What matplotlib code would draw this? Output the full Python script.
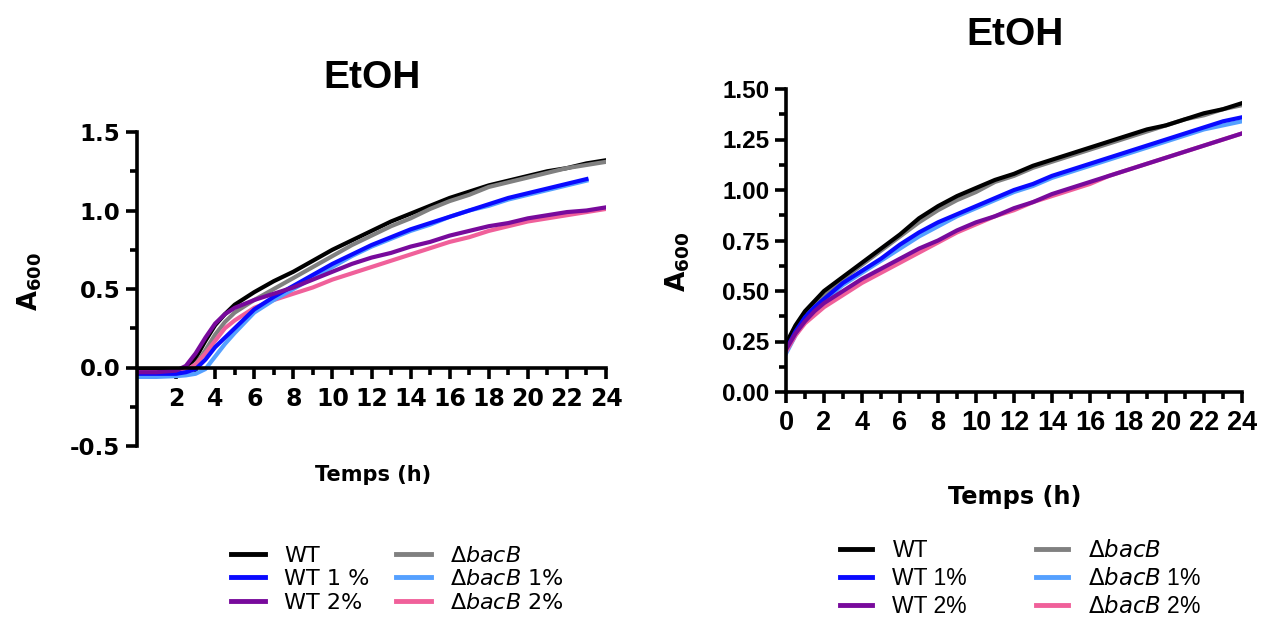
import numpy as np
import matplotlib
matplotlib.use("Agg")
import matplotlib.pyplot as plt
from matplotlib.ticker import MultipleLocator, FixedLocator
from matplotlib.lines import Line2D

nan = np.nan

# ---------------- data: left panel ----------------
t_left = [0, 1, 2, 2.5, 3, 3.5, 4, 4.5, 5, 6, 7, 8, 9, 10, 11, 12, 13, 14,
          15, 16, 17, 18, 19, 20, 21, 22, 23, 24]
left_wt = [-0.02, -0.02, -0.02, 0.00, 0.06, 0.17, 0.27, 0.34, 0.40, 0.48, 0.55, 0.61,
           0.68, 0.75, 0.81, 0.87, 0.93, 0.98, 1.03, 1.08, 1.12, 1.16, 1.19, 1.22,
           1.25, 1.27, 1.30, 1.32]
left_wt1 = [-0.04, -0.04, -0.04, -0.03, -0.01, 0.05, 0.13, 0.19, 0.25, 0.37, 0.45, 0.52,
            0.59, 0.66, 0.72, 0.78, 0.83, 0.88, 0.92, 0.96, 1.00, 1.04, 1.08, 1.11,
            1.14, 1.17, 1.20, nan]
left_wt2 = [-0.03, -0.03, -0.02, 0.01, 0.09, 0.19, 0.28, 0.34, 0.38, 0.43, 0.47, 0.51,
            0.56, 0.61, 0.66, 0.70, 0.73, 0.77, 0.80, 0.84, 0.87, 0.90, 0.92, 0.95,
            0.97, 0.99, 1.00, 1.02]
left_d = [-0.03, -0.03, -0.03, -0.02, 0.02, 0.11, 0.21, 0.29, 0.35, 0.43, 0.50, 0.57,
          0.64, 0.71, 0.78, 0.84, 0.90, 0.95, 1.01, 1.06, 1.10, 1.15, 1.18, 1.21,
          1.24, 1.27, 1.29, 1.31]
left_d1 = [-0.06, -0.06, -0.055, -0.05, -0.04, -0.01, 0.07, 0.15, 0.22, 0.35, 0.43, 0.50,
           0.57, 0.64, 0.71, 0.77, 0.82, 0.87, 0.91, 0.96, 1.00, 1.03, 1.07, 1.10,
           1.13, 1.16, 1.19, nan]
left_d2 = [-0.03, -0.03, -0.03, -0.02, 0.02, 0.09, 0.17, 0.25, 0.30, 0.38, 0.43, 0.47,
           0.51, 0.56, 0.60, 0.64, 0.68, 0.72, 0.76, 0.80, 0.83, 0.87, 0.90, 0.93,
           0.95, 0.97, 0.99, 1.01]

# ---------------- data: right panel ----------------
t_right = [0, 0.5, 1, 1.5, 2, 3, 4, 5, 6, 7, 8, 9, 10, 11, 12, 13, 14, 15, 16,
           17, 18, 19, 20, 21, 22, 23, 24]
right_wt = [0.24, 0.33, 0.40, 0.45, 0.50, 0.57, 0.64, 0.71, 0.78, 0.86, 0.92, 0.97,
            1.01, 1.05, 1.08, 1.12, 1.15, 1.18, 1.21, 1.24, 1.27, 1.30, 1.32, 1.35,
            1.38, 1.40, 1.43]
right_wt1 = [0.21, 0.30, 0.37, 0.42, 0.46, 0.54, 0.60, 0.66, 0.73, 0.79, 0.84, 0.88,
             0.92, 0.96, 1.00, 1.03, 1.07, 1.10, 1.13, 1.16, 1.19, 1.22, 1.25, 1.28,
             1.31, 1.34, 1.36]
right_wt2 = [0.21, 0.29, 0.35, 0.40, 0.44, 0.50, 0.56, 0.61, 0.66, 0.71, 0.75, 0.80,
             0.84, 0.87, 0.91, 0.94, 0.98, 1.01, 1.04, 1.07, 1.10, 1.13, 1.16, 1.19,
             1.22, 1.25, 1.28]
right_d = [0.22, 0.31, 0.38, 0.43, 0.48, 0.56, 0.63, 0.70, 0.77, 0.84, 0.90, 0.95,
           0.99, 1.04, 1.07, 1.11, 1.14, 1.17, 1.20, 1.23, 1.26, 1.29, 1.32, 1.35,
           1.37, 1.40, 1.42]
right_d1 = [0.19, 0.28, 0.35, 0.40, 0.45, 0.53, 0.59, 0.65, 0.71, 0.77, 0.82, 0.87,
            0.91, 0.95, 0.99, 1.02, 1.06, 1.09, 1.12, 1.15, 1.18, 1.21, 1.24, 1.27,
            1.30, 1.32, 1.34]
right_d2 = [0.20, 0.28, 0.34, 0.38, 0.42, 0.48, 0.54, 0.59, 0.64, 0.69, 0.74, 0.79,
            0.83, 0.87, 0.90, 0.94, 0.97, 1.00, 1.03, 1.07, 1.10, 1.13, 1.16, 1.19,
            1.22, 1.25, 1.28]

labels_left = ["WT", "WT 1 %", "WT 2%",
               r"$\Delta\mathit{bacB}$", r"$\Delta\mathit{bacB}$ 1%", r"$\Delta\mathit{bacB}$ 2%"]
labels_right = ["WT", "WT 1%", "WT 2%",
                r"$\Delta\mathit{bacB}$", r"$\Delta\mathit{bacB}$ 1%", r"$\Delta\mathit{bacB}$ 2%"]
colors = ["#000000", "#0a0aff", "#780a9c", "#808080", "#55a0ff", "#f0609a"]
x_ticks = [2, 4, 6, 8, 10, 12, 14, 16, 18, 20, 22, 24]
x_ticks_right = [0, 2, 4, 6, 8, 10, 12, 14, 16, 18, 20, 22, 24]
y_ticks_left = [-0.5, 0.0, 0.5, 1.0, 1.5]
y_ticks_right = [0.00, 0.25, 0.50, 0.75, 1.00, 1.25, 1.50]

W, H = 1261, 617
fig = plt.figure(figsize=(W / 100, H / 100), dpi=100)

def style(ax, xfs, yfs, fam):
    for s in ["top", "right"]:
        ax.spines[s].set_visible(False)
    for s in ["left", "bottom"]:
        ax.spines[s].set_linewidth(2.6)
    ax.tick_params(which="major", width=2.6, length=8, pad=4)
    ax.tick_params(which="minor", width=2.6, length=5)
    ax.tick_params(axis="x", labelsize=xfs)
    ax.tick_params(axis="y", labelsize=yfs)
    for lab in ax.get_xticklabels() + ax.get_yticklabels():
        lab.set_fontweight("bold")
        lab.set_family(fam)

LW = 3.0

# ---------------- left panel ----------------
axL = fig.add_axes([137 / W, 1 - 446 / H, (606 - 137) / W, (446 - 132) / H])
series_left = [left_wt, left_wt1, left_wt2, left_d, left_d1, left_d2]
order_left = [0, 3, 5, 4, 1, 2]
for i in order_left:
    axL.plot(t_left, series_left[i], color=colors[i], lw=LW)
axL.set_xlim(0, 24)
axL.set_ylim(-0.5, 1.5)
axL.spines["bottom"].set_position(("data", 0))
axL.set_xticks(x_ticks)
axL.set_xticklabels([str(v) for v in x_ticks])
axL.xaxis.set_minor_locator(FixedLocator([1, 3, 5, 7, 9, 11, 13, 15, 17, 19, 21, 23]))
axL.set_yticks(y_ticks_left)
axL.set_yticklabels(["-0.5", "0.0", "0.5", "1.0", "1.5"])
axL.yaxis.set_minor_locator(MultipleLocator(0.25))
style(axL, 17, 16.5, "DejaVu Sans")
axL.tick_params(axis="x", which="major", pad=6)

fig.text(372 / W, 1 - 78 / H, "EtOH", ha="center", va="center",
         fontsize=28, fontweight="bold", family="Liberation Sans")
fig.text(373 / W, 1 - 475 / H, "Temps (h)", ha="center", va="center",
         fontsize=15, fontweight="bold", family="DejaVu Sans")
fig.text(30 / W, 1 - 282 / H, r"A$_{\mathbf{600}}$", ha="center", va="center",
         rotation=90, fontsize=18.5, fontweight="bold", family="DejaVu Sans")

# ---------------- right panel ----------------
axR = fig.add_axes([786 / W, 1 - 392 / H, (1242 - 786) / W, (392 - 89) / H])
series_right = [right_wt, right_wt1, right_wt2, right_d, right_d1, right_d2]
order_right = [3, 0, 4, 1, 5, 2]
for i in order_right:
    axR.plot(t_right, series_right[i], color=colors[i], lw=LW)
axR.set_xlim(0, 24)
axR.set_ylim(0, 1.5)
axR.set_xticks(x_ticks_right)
axR.set_xticklabels([str(v) for v in x_ticks_right])
axR.xaxis.set_minor_locator(FixedLocator([1, 3, 5, 7, 9, 11, 13, 15, 17, 19, 21, 23]))
axR.set_yticks(y_ticks_right)
axR.set_yticklabels(["%.2f" % v for v in y_ticks_right])
axR.yaxis.set_minor_locator(MultipleLocator(0.125))
style(axR, 19.5, 17.5, "Liberation Sans")
axR.tick_params(axis="x", which="major", pad=5)

fig.text(1015 / W, 1 - 35 / H, "EtOH", ha="center", va="center",
         fontsize=28, fontweight="bold", family="Liberation Sans")
fig.text(1015 / W, 1 - 497 / H, "Temps (h)", ha="center", va="center",
         fontsize=17.3, fontweight="bold", family="DejaVu Sans")
fig.text(678 / W, 1 - 262 / H, r"A$_{\mathbf{600}}$", ha="center", va="center",
         rotation=90, fontsize=19, fontweight="bold", family="DejaVu Sans")

# ---------------- legends ----------------
handles = [Line2D([], [], color=c, lw=3.5) for c in colors]
legL = fig.legend(handles, labels_left, ncol=2, loc="upper left",
                  bbox_to_anchor=(222 / W, 1 - 537 / H), frameon=False,
                  prop={"family": "DejaVu Sans", "size": 16},
                  handlelength=1.55, handletextpad=0.85, columnspacing=1.2,
                  labelspacing=0.15, borderaxespad=0)
legR = fig.legend(handles, labels_right, ncol=2, loc="upper left",
                  bbox_to_anchor=(831 / W, 1 - 530 / H), frameon=False,
                  prop={"family": "Liberation Sans", "size": 16.5},
                  handlelength=1.4, handletextpad=0.88, columnspacing=3.0,
                  labelspacing=0.22, borderaxespad=0)

fig.savefig("out.png", dpi=100)
